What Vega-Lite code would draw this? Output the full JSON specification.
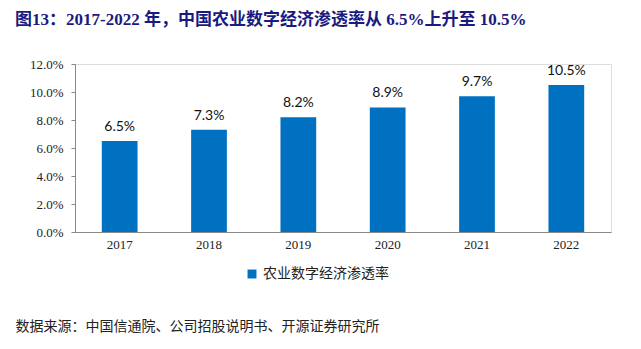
{
  "$schema": "https://vega.github.io/schema/vega-lite/v6.json",
  "width": 536,
  "height": 168,
  "autosize": {"type": "none"},
  "padding": {"left": 75, "top": 64, "right": 30, "bottom": 117},
  "background": "white",
  "title": {
    "text": "图13：2017-2022 年，中国农业数字经济渗透率从 6.5%上升至 10.5%",
    "anchor": "start",
    "frame": "group",
    "dx": -60,
    "offset": 29,
    "font": "Liberation Serif, Noto Sans CJK SC",
    "fontSize": 17,
    "fontWeight": "bold",
    "color": "#1a1a80"
  },
  "data": {
    "values": [
      {"year": "2017", "rate": 0.065, "series": "农业数字经济渗透率"},
      {"year": "2018", "rate": 0.073, "series": "农业数字经济渗透率"},
      {"year": "2019", "rate": 0.082, "series": "农业数字经济渗透率"},
      {"year": "2020", "rate": 0.089, "series": "农业数字经济渗透率"},
      {"year": "2021", "rate": 0.097, "series": "农业数字经济渗透率"},
      {"year": "2022", "rate": 0.105, "series": "农业数字经济渗透率"}
    ]
  },
  "encoding": {
    "x": {
      "field": "year",
      "type": "nominal",
      "scale": {"paddingInner": 0.6, "paddingOuter": 0.3},
      "axis": {
        "title": "数据来源：中国信通院、公司招股说明书、开源证券研究所",
        "titleAnchor": "start",
        "titleX": -60,
        "titleY": 87,
        "titleBaseline": "top",
        "titleFont": "Noto Sans CJK SC",
        "titleFontSize": 14,
        "titleFontWeight": "normal",
        "titleColor": "#222",
        "labelAngle": 0,
        "labelFont": "Liberation Serif",
        "labelFontSize": 13,
        "labelColor": "#222",
        "labelPadding": 6,
        "ticks": false,
        "domainColor": "#888",
        "grid": false
      }
    },
    "y": {
      "field": "rate",
      "type": "quantitative",
      "scale": {"domain": [0, 0.12]},
      "axis": {
        "title": null,
        "format": ".1%",
        "values": [0, 0.02, 0.04, 0.06, 0.08, 0.1, 0.12],
        "labelFont": "Liberation Serif",
        "labelFontSize": 13,
        "labelColor": "#222",
        "labelPadding": 8,
        "tickSize": 4,
        "tickColor": "#888",
        "domainColor": "#888",
        "grid": false
      }
    }
  },
  "layer": [
    {
      "mark": {"type": "bar", "color": "#0070C0"},
      "encoding": {
        "color": {
          "field": "series",
          "type": "nominal",
          "scale": {"range": ["#0070C0"]},
          "legend": {
            "title": null,
            "orient": "none",
            "legendX": 170,
            "legendY": 203,
            "symbolType": "square",
            "symbolSize": 80,
            "labelFont": "Noto Sans CJK SC",
            "labelFontSize": 14,
            "labelColor": "#222"
          }
        }
      }
    },
    {
      "mark": {"type": "text", "dy": -14, "font": "Lato", "fontSize": 14, "color": "#111"},
      "encoding": {
        "text": {"field": "rate", "type": "quantitative", "format": ".1%"}
      }
    }
  ]
}
